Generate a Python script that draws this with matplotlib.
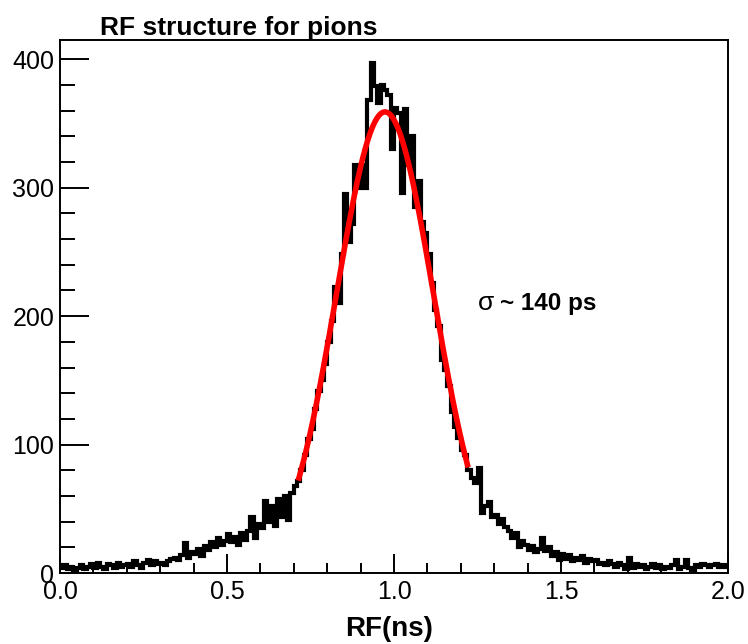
import numpy as np
import matplotlib
matplotlib.use("Agg")
import matplotlib.pyplot as plt
from matplotlib.ticker import MultipleLocator

plt.rcParams["font.family"] = ["Liberation Sans Narrow", "Liberation Sans", "DejaVu Sans"]

# histogram: 200 bins of 0.01 ns from 0 to 2 ns (counts)
bin_edges = np.round(np.arange(0, 2.0001, 0.01), 3)
counts = [
    4, 6, 3, 5, 2, 4, 6, 3, 5, 7,            # 0.0
    4, 8, 5, 3, 7, 6, 4, 8, 5, 6,            # 0.1
    7, 5, 9, 6, 4, 8, 10, 6, 9, 7,           # 0.2
    8, 6, 9, 11, 12, 10, 14, 23, 12, 16,     # 0.3
    15, 19, 13, 21, 18, 24, 20, 27, 22, 25,  # 0.4
    30, 24, 28, 22, 31, 26, 33, 44, 27, 38,  # 0.5
    35, 56, 40, 52, 37, 58, 44, 60, 41, 62,  # 0.6
    68, 72, 80, 92, 104, 112, 128, 142, 150, 163,     # 0.7
    180, 196, 223, 210, 248, 295, 258, 272, 318, 300,  # 0.8
    318, 300, 368, 397, 379, 366, 380, 376, 372, 330,  # 0.9
    362, 358, 296, 361, 318, 340, 285, 305, 273, 265,  # 1.0
    248, 226, 205, 192, 166, 158, 146, 125, 114, 105,  # 1.1
    96, 92, 80, 74, 70, 82, 47, 52, 55, 44,  # 1.2
    45, 38, 42, 36, 33, 27, 31, 20, 25, 22,  # 1.3
    18, 21, 16, 19, 27, 17, 20, 13, 16, 10,  # 1.4
    15, 11, 14, 9, 12, 10, 13, 8, 11, 9,     # 1.5
    10, 7, 8, 6, 9, 7, 5, 8, 6, 3,           # 1.6
    12, 4, 7, 5, 6, 3, 5, 7, 4, 6,           # 1.7
    3, 5, 4, 6, 10, 3, 5, 10, 4, 2,          # 1.8
    6, 5, 7, 6, 5, 6, 7, 5, 6, 5,            # 1.9
]

# gaussian fit parameters
fit_amp = 359.0
fit_mean = 0.973
fit_sigma = 0.145
fit_range = (0.713, 1.222)

fig = plt.figure(figsize=(7.48, 6.44), dpi=100)
ax = fig.add_axes([0.0802, 0.1102, 0.8931, 0.8277])

ax.stairs(counts, bin_edges, baseline=None, color="black", linewidth=3.0)

xf = np.linspace(fit_range[0], fit_range[1], 300)
yf = fit_amp * np.exp(-0.5 * ((xf - fit_mean) / fit_sigma) ** 2)
ax.plot(xf, yf, color="red", linewidth=4.0, solid_capstyle="butt")

ax.set_xlim(0, 2)
ax.set_ylim(0, 415)

# ROOT-like axes
ax.xaxis.set_major_locator(MultipleLocator(0.5))
ax.xaxis.set_minor_locator(MultipleLocator(0.1))
ax.yaxis.set_major_locator(MultipleLocator(100))
ax.yaxis.set_minor_locator(MultipleLocator(20))
ax.xaxis.set_major_formatter(matplotlib.ticker.FormatStrFormatter("%.1f"))
ax.tick_params(axis="both", which="both", direction="in", top=False, right=False,
               width=1.4, labelsize=18)
ax.tick_params(axis="x", which="major", length=14, pad=5)
ax.tick_params(axis="x", which="minor", length=7)
ax.tick_params(axis="y", which="major", length=21, pad=4)
ax.tick_params(axis="y", which="minor", length=11)
for s in ax.spines.values():
    s.set_linewidth(1.4)

fig.text(0.134, 0.9457, "RF structure for pions", fontsize=19, fontweight="bold",
         ha="left", va="baseline")
fig.text(0.579, 0.0125, "RF(ns)", fontsize=20, fontweight="bold",
         ha="right", va="baseline")

ax.text(1.25, 210, "\u03c3", fontsize=19, ha="left", va="center")
ax.text(1.317, 210, "~ 140 ps", fontsize=17.5, fontweight="bold", ha="left", va="center")

fig.savefig("out.png", dpi=100)
